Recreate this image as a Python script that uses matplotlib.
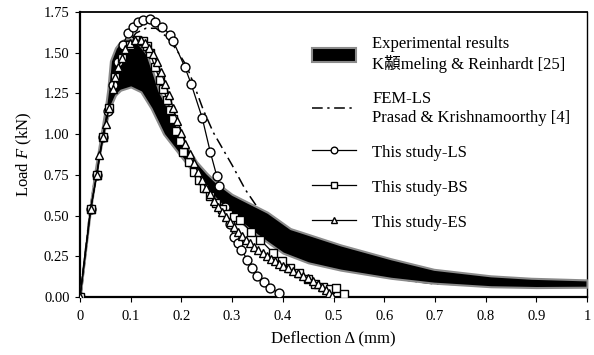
import numpy as np
import matplotlib
matplotlib.use("Agg")
from matplotlib import pyplot as plt

plt.rcParams['font.family'] = ['Liberation Serif', 'Noto Sans CJK SC']
plt.rcParams['mathtext.fontset'] = 'custom'
plt.rcParams['mathtext.it'] = 'Liberation Serif:italic'
plt.rcParams['mathtext.rm'] = 'Liberation Serif'

# experimental band (upper / lower envelope)
exp_up_x = [0, 0.02, 0.03, 0.04, 0.05, 0.055, 0.06, 0.07, 0.08, 0.09, 0.10, 0.11, 0.12, 0.132,
            0.145, 0.155, 0.17, 0.19, 0.21, 0.23, 0.25, 0.27, 0.30, 0.37, 0.415, 0.435, 0.514,
            0.613, 0.698, 0.81, 0.89, 1.0]
exp_up_y = [0, 0.56, 0.78, 0.97, 1.16, 1.28, 1.45, 1.53, 1.57, 1.585, 1.585, 1.57, 1.54, 1.49,
            1.37, 1.27, 1.18, 1.05, 0.93, 0.83, 0.76, 0.70, 0.63, 0.52, 0.42, 0.40, 0.32,
            0.235, 0.17, 0.13, 0.115, 0.105]
exp_lo_x = [0, 0.02, 0.03, 0.04, 0.05, 0.06, 0.07, 0.08, 0.10, 0.12, 0.14, 0.165, 0.19, 0.21,
            0.23, 0.26, 0.30, 0.35, 0.40, 0.45, 0.514, 0.613, 0.698, 0.81, 0.90, 1.0]
exp_lo_y = [0, 0.52, 0.72, 0.90, 1.05, 1.17, 1.24, 1.27, 1.29, 1.26, 1.16, 1.00, 0.90, 0.82,
            0.74, 0.63, 0.50, 0.38, 0.27, 0.21, 0.165, 0.115, 0.085, 0.063, 0.058, 0.06]

# FEM-LS, Prasad & Krishnamoorthy
fem_x = [0, 0.02, 0.03, 0.05, 0.07, 0.09, 0.11, 0.13, 0.15, 0.17, 0.19, 0.21, 0.224, 0.243,
         0.263, 0.287, 0.30, 0.326, 0.35, 0.372, 0.40, 0.45, 0.50, 0.55, 0.60, 0.65, 0.70,
         0.78, 0.85]
fem_y = [0, 0.54, 0.75, 1.08, 1.35, 1.53, 1.62, 1.65, 1.65, 1.60, 1.52, 1.42, 1.31, 1.15,
         1.01, 0.88, 0.81, 0.66, 0.55, 0.47, 0.38, 0.28, 0.21, 0.17, 0.13, 0.10, 0.08,
         0.075, 0.07]

# This study-LS
ls_x = [0, 0.021, 0.033, 0.045, 0.055, 0.065, 0.075, 0.085, 0.095, 0.105, 0.115, 0.125, 0.138,
        0.148, 0.162, 0.178, 0.184, 0.207, 0.219, 0.241, 0.257, 0.27, 0.275, 0.285, 0.295,
        0.303, 0.311, 0.318, 0.33, 0.34, 0.35, 0.362, 0.375, 0.392]
ls_y = [0, 0.54, 0.75, 0.98, 1.14, 1.30, 1.44, 1.55, 1.62, 1.66, 1.69, 1.70, 1.71,
        1.69, 1.66, 1.61, 1.57, 1.41, 1.31, 1.10, 0.89, 0.74, 0.68, 0.55, 0.45,
        0.37, 0.33, 0.29, 0.23, 0.18, 0.13, 0.09, 0.055, 0.025]

# This study-BS
bs_x = [0, 0.021, 0.033, 0.045, 0.057, 0.069, 0.083, 0.099, 0.112, 0.125, 0.132, 0.138, 0.148,
        0.158, 0.164, 0.172, 0.178, 0.184, 0.19, 0.197, 0.204, 0.214, 0.224, 0.234, 0.245,
        0.256, 0.268, 0.28, 0.292, 0.304, 0.316, 0.338, 0.356, 0.381, 0.398, 0.415, 0.431,
        0.45, 0.464, 0.48, 0.494, 0.504, 0.52]
bs_y = [0, 0.54, 0.75, 0.98, 1.16, 1.35, 1.47, 1.55, 1.58, 1.57, 1.54, 1.50, 1.41,
        1.33, 1.28, 1.21, 1.15, 1.09, 1.02, 0.96, 0.89, 0.83, 0.77, 0.72, 0.67,
        0.62, 0.58, 0.54, 0.51, 0.49, 0.47, 0.40, 0.35, 0.27, 0.22, 0.18, 0.15,
        0.11, 0.08, 0.06, 0.05, 0.055, 0.02]

# This study-ES
es_x = [0, 0.021, 0.033, 0.038, 0.045, 0.051, 0.057, 0.065, 0.069, 0.075, 0.083, 0.089, 0.099,
        0.109, 0.12, 0.128, 0.136, 0.144, 0.152, 0.16, 0.168, 0.176, 0.184, 0.192, 0.2, 0.208,
        0.216, 0.224, 0.232, 0.24, 0.248, 0.256, 0.264, 0.272, 0.28, 0.288, 0.296, 0.304,
        0.312, 0.32, 0.328, 0.336, 0.344, 0.352, 0.36, 0.368, 0.376, 0.384, 0.392, 0.40,
        0.41, 0.42, 0.43, 0.44, 0.45, 0.46, 0.47, 0.478, 0.486, 0.492, 0.498]
es_y = [0, 0.54, 0.75, 0.87, 0.98, 1.06, 1.16, 1.28, 1.35, 1.41, 1.47, 1.52, 1.56,
        1.58, 1.575, 1.56, 1.53, 1.49, 1.44, 1.38, 1.31, 1.24, 1.16, 1.08, 1.01, 0.94,
        0.88, 0.82, 0.77, 0.72, 0.67, 0.63, 0.59, 0.55, 0.52, 0.49, 0.46, 0.43,
        0.40, 0.375, 0.35, 0.33, 0.31, 0.29, 0.27, 0.25, 0.235, 0.22, 0.205, 0.19,
        0.175, 0.16, 0.145, 0.13, 0.115, 0.10, 0.08, 0.06, 0.04, 0.025, 0.005]

x_ticks = [0, 0.1, 0.2, 0.3, 0.4, 0.5, 0.6, 0.7, 0.8, 0.9, 1.0]
x_tick_labels = ["0", "0.1", "0.2", "0.3", "0.4", "0.5", "0.6", "0.7", "0.8", "0.9", "1"]
y_ticks = [0, 0.25, 0.5, 0.75, 1.0, 1.25, 1.5, 1.75]
y_tick_labels = ["0.00", "0.25", "0.50", "0.75", "1.00", "1.25", "1.50", "1.75"]

label_exp = "Experimental results\nK\u9862meling & Reinhardt [25]"
label_fem = "FEM-LS\nPrasad & Krishnamoorthy [4]"
label_ls = "This study-LS"
label_bs = "This study-BS"
label_es = "This study-ES"

fig = plt.figure(figsize=(5.94, 3.55), dpi=100)
ax = fig.add_axes([0.1347, 0.1634, 0.8535, 0.8028])

# put both envelopes on one x grid for fill_between
band_x = np.array(sorted(set(exp_up_x) | set(exp_lo_x)))
band_up = np.interp(band_x, exp_up_x, exp_up_y)
band_lo = np.interp(band_x, exp_lo_x, exp_lo_y)

ax.plot(fem_x, fem_y, color="black", lw=1.1, dashes=(7, 3, 1.5, 3), label=label_fem, zorder=2)
ax.fill_between(band_x, band_lo, band_up, facecolor="black", edgecolor="#8a8a8a",
                lw=1.5, label=label_exp, zorder=3)
ax.plot(ls_x, ls_y, color="black", lw=0.9, marker="o", ms=6.4, mfc="white", mec="black",
        mew=1.0, label=label_ls, zorder=4)
ax.plot(bs_x, bs_y, color="black", lw=0.9, marker="s", ms=5.2, mfc="white", mec="black",
        mew=1.0, label=label_bs, zorder=5)
ax.plot(es_x, es_y, color="black", lw=0.9, marker="^", ms=5.6, mfc="white", mec="black",
        mew=1.0, label=label_es, zorder=6)

ax.set_xlim(0, 1.0)
ax.set_ylim(0, 1.75)
ax.set_xticks(x_ticks)
ax.set_xticklabels(x_tick_labels)
ax.set_yticks(y_ticks)
ax.set_yticklabels(y_tick_labels)
ax.tick_params(axis="both", direction="out", length=3.5, width=0.8, labelsize=10.5,
               colors="black")
ax.tick_params(axis="x", pad=6)
ax.tick_params(axis="y", pad=4)
for side in ["left", "bottom"]:
    ax.spines[side].set_linewidth(1.6)
ax.spines["top"].set_linewidth(1.3)
ax.spines["right"].set_linewidth(1.0)

ax.set_xlabel("Deflection \u0394 (mm)", fontsize=12, labelpad=5)
ax.set_ylabel("Load $F$ (kN)", fontsize=12, labelpad=7)

handles, labels = ax.get_legend_handles_labels()
order = [labels.index(l) for l in [label_exp, label_fem, label_ls, label_bs, label_es]]
leg = ax.legend([handles[i] for i in order], [labels[i] for i in order],
                loc="upper left", bbox_to_anchor=(0.442, 0.945), frameon=False,
                borderpad=0, handlelength=2.6, handleheight=0.9, handletextpad=1.0,
                labelspacing=1.1, markerscale=0.75,
                prop={"family": ["Liberation Serif", "Noto Sans CJK SC"], "size": 12})

fig.savefig("out.png", dpi=100)
